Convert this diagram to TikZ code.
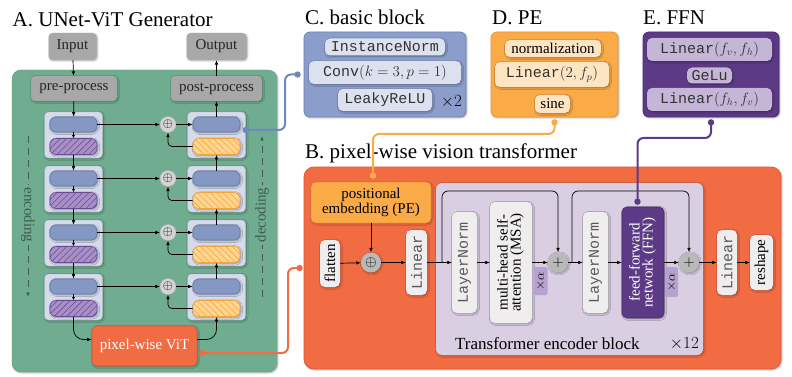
\RequirePackage{fix-cm}
\documentclass[tikz,border=0pt]{standalone}
\usepackage{fontspec}
\setmainfont{Liberation Serif}
\setmonofont{Liberation Mono}
\usepackage{graphicx}
\usetikzlibrary{arrows.meta,shadows.blur,patterns.meta}

\definecolor{panelgreen}{HTML}{6FAC90}
\definecolor{boxgray}{HTML}{A8A8A8}
\definecolor{blocklight}{HTML}{D5DBEA}
\definecolor{pillblue}{HTML}{8598C4}
\definecolor{pillblueline}{HTML}{6179AE}
\definecolor{hatchpurple}{HTML}{A88FC6}
\definecolor{hatchpurpleline}{HTML}{6A4B95}
\definecolor{hatchorange}{HTML}{FFD58F}
\definecolor{hatchorangeline}{HTML}{F3A43A}
\definecolor{vitred}{HTML}{F26C43}
\definecolor{vitredline}{HTML}{E2582F}
\definecolor{cblue}{HTML}{8A9DCB}
\definecolor{cblueline}{HTML}{6C84BA}
\definecolor{cpill}{HTML}{DCE1EF}
\definecolor{peorange}{HTML}{FAAA47}
\definecolor{peorangeline}{HTML}{EC9535}
\definecolor{dpill}{HTML}{FDE4C3}
\definecolor{ffnpurple}{HTML}{5D3A86}
\definecolor{ffnpurpleline}{HTML}{482A6E}
\definecolor{epill}{HTML}{C5B6D8}
\definecolor{tblock}{HTML}{D9CEE2}
\definecolor{lightpill}{HTML}{EFEDED}
\definecolor{alphabox}{HTML}{B7A2CF}
\definecolor{plusgray}{HTML}{B9B9B9}
\definecolor{sumlight}{HTML}{D4D4D4}
\definecolor{dashcol}{HTML}{3F5E51}
\definecolor{bluecon}{HTML}{6F88BF}

\tikzset{
  softshadow/.style={blur shadow={shadow xshift=0.9pt, shadow yshift=-0.9pt,
      shadow blur radius=1.6pt, shadow opacity=35}},
  arr/.style={-{Latex[length=4.5pt,width=3.6pt]}, line width=0.7pt, black},
  smallarr/.style={-{Latex[length=3pt,width=2.8pt]}, line width=0.6pt, black},
  txt/.style={font=\fontsize{15}{15}\selectfont},
  mono/.style={font=\fontsize{15}{15}\selectfont\ttfamily},
  headline/.style={font=\fontsize{21}{24}\selectfont, inner sep=0pt, anchor=base west},
  graybox/.style={softshadow, fill=boxgray, rounded corners=4pt, inner sep=0pt, txt, text=black!85},
  blockbg/.style={softshadow, fill=blocklight, draw=blocklight!85!black, line width=0.4pt,
      rounded corners=4pt, minimum width=58, minimum height=46},
  bluepill/.style={softshadow, fill=pillblue, draw=pillblueline, line width=0.6pt,
      rounded corners=6pt, minimum width=47, minimum height=15, inner sep=0pt},
  purplepill/.style={softshadow, preaction={fill=hatchpurple},
      pattern={Lines[angle=45,distance=4.5pt,line width=0.55pt]}, pattern color=hatchpurpleline,
      draw=hatchpurpleline, line width=0.6pt, rounded corners=6pt,
      minimum width=47, minimum height=16, inner sep=0pt},
  orangepill/.style={softshadow, preaction={fill=hatchorange},
      pattern={Lines[angle=-45,distance=4.5pt,line width=0.55pt]}, pattern color=hatchorangeline,
      draw=hatchorangeline, line width=0.6pt, rounded corners=6pt,
      minimum width=47, minimum height=16, inner sep=0pt},
  sumA/.style={circle, fill=sumlight, draw=sumlight!85!black, line width=0.4pt,
      minimum size=16, inner sep=0pt, font=\fontsize{13}{13}\selectfont},
  sumB/.style={softshadow, circle, fill=plusgray, minimum size=20, inner sep=0pt,
      font=\fontsize{15}{15}\selectfont},
  vitbox/.style={softshadow, fill=vitred, draw=vitredline, line width=0.6pt, rounded corners=5pt,
      inner sep=0pt, txt, text=white},
  dasharr/.style={-{Latex[length=4.5pt,width=3.6pt]}, dashcol, line width=0.8pt,
      dash pattern=on 7pt off 5pt},
  dashlabel/.style={txt, text=dashcol, fill=panelgreen, inner sep=3pt},
  panelbox/.style={softshadow, rounded corners=6pt, line width=0.8pt, inner sep=0pt},
  minipill/.style={softshadow, rounded corners=5pt, inner sep=0pt},
  lpill/.style={softshadow, fill=lightpill, rounded corners=5pt, inner sep=0pt},
  alphab/.style={fill=alphabox, rounded corners=2pt, inner sep=0pt,
      font=\fontsize{13}{13}\selectfont},
  dotc/.style={line width=2pt, rounded corners=6pt},
}

\begin{document}
\begin{tikzpicture}[x=1pt,y=-1pt]
\useasboundingbox (0,0) rectangle (792,377);

% ================= A: UNet-ViT generator =================
\node[headline] (tA) at (12.5,26.5) {A. UNet-ViT Generator};
\path[softshadow, fill=panelgreen, draw=panelgreen!92!black, line width=0.4pt, rounded corners=9pt]
  (12,70) rectangle (277,372);

\node[graybox, minimum width=48, minimum height=27] (input) at (72.5,46.5) {Input};
\node[graybox, minimum width=60, minimum height=27] (output) at (216.5,46.5) {Output};
\node[graybox, minimum width=86, minimum height=25] (pre) at (74,88.5) {pre-process};
\node[graybox, minimum width=91, minimum height=25] (post) at (216.5,88.5) {post-process};

\foreach \i/\t in {1/112,2/166,3/220,4/274}{
  \node[blockbg] (eblk\i) at (73.5,\t+23) {};
  \node[blockbg] (dblk\i) at (216.5,\t+23) {};
  \node[bluepill] (eb\i) at (73.5,\t+12.5) {};
  \node[purplepill] (ep\i) at (73.5,\t+34.5) {};
  \node[bluepill] (db\i) at (216.5,\t+12.5) {};
  \node[orangepill] (dp\i) at (216.5,\t+34.5) {};
  \node[sumA] (s\i) at (168,\t+12.5) {$\oplus$};
  \draw[arr] (eb\i.east) -- (s\i.west);
  \draw[arr] (s\i.east) -- (db\i.west);
  \draw[smallarr] (eb\i.south) -- (ep\i.north);
  \draw[arr, rounded corners=4pt] (dp\i.west) -| (s\i.south);
}
\foreach \i/\j in {1/2,2/3,3/4}{
  \draw[arr] (ep\i.south) -- (eb\j.north);
  \draw[arr] (db\j.north) -- (dp\i.south);
}
\draw[arr] (input) -- (pre);
\draw[arr] (pre) -- (eb1);
\draw[arr] (db1) -- (post);
\draw[arr] (post) -- (output);

\node[vitbox, minimum width=105, minimum height=40] (vit) at (144.5,346) {pixel-wise ViT};
\draw[arr, rounded corners=10pt] (ep4.south) |- ([yshift=6.5pt]vit.west);
\draw[arr, rounded corners=10pt] ([yshift=6.5pt]vit.east) -| (dp4.south);

% encoding / decoding direction marks
\coordinate (encTop) at (28,136);
\coordinate (encBot) at (28,297);
\coordinate (decBot) at (262,297);
\coordinate (decTop) at (262,136);
\draw[dasharr] (encTop) -- (encBot);
\draw[dasharr] (decBot) -- (decTop);
\node[dashlabel, rotate=-90] (enc) at (28,215) {encoding};
\node[dashlabel, rotate=90] (dec) at (262,215) {decoding};

% ================= C: basic block =================
\node[headline] (tC) at (305,25) {C. basic block};
\node[panelbox, fill=cblue, draw=cblueline, minimum width=162, minimum height=85] (Cbox) at (385,74.5) {};
\node[minipill, fill=cpill, mono, text=black!80, minimum width=120, minimum height=17] (inorm) at (385,47) {InstanceNorm};
\node[minipill, fill=cpill, mono, text=black!80, minimum width=152, minimum height=23] (conv) at (385,72.5) {Conv$(k=3,p=1)$};
\node[minipill, fill=cpill, mono, text=black!80, minimum width=94, minimum height=22] (lrelu) at (385,100) {LeakyReLU};
\node[font=\fontsize{17}{17}\selectfont, inner sep=0pt] (x2) at (451.5,101.5) {$\times 2$};

% ================= D: positional embedding =================
\node[headline] (tD) at (492,25) {D. PE};
\node[panelbox, fill=peorange, draw=peorangeline, minimum width=127, minimum height=85] (Dbox) at (554.5,74.5) {};
\node[minipill, fill=dpill, txt, minimum width=96, minimum height=17] (normz) at (553,48.5) {normalization};
\node[minipill, fill=dpill, mono, text=black!80, minimum width=114, minimum height=25] (linp) at (552,74.5) {Linear$(2,f_p)$};
\node[minipill, fill=dpill, txt, minimum width=35, minimum height=18] (sine) at (552.5,104) {sine};

% ================= E: feed-forward network =================
\node[headline] (tE) at (643,25) {E. FFN};
\node[panelbox, fill=ffnpurple, draw=ffnpurpleline, minimum width=136, minimum height=85] (Ebox) at (711,74.5) {};
\node[minipill, fill=epill, mono, text=black!80, minimum width=125, minimum height=23] (lvh) at (709.5,49.5) {Linear$(f_v,f_h)$};
\node[minipill, fill=epill, mono, text=black!80, minimum width=45, minimum height=16] (gelu) at (709.5,75.5) {GeLu};
\node[minipill, fill=epill, mono, text=black!80, minimum width=125, minimum height=23] (lhv) at (709.5,99.5) {Linear$(f_h,f_v)$};

% ================= B: pixel-wise vision transformer =================
\node[headline] (tB) at (305,158) {B. pixel-wise vision transformer};
\node[panelbox, fill=vitred, draw=vitredline, rounded corners=10pt, minimum width=477, minimum height=202] (Bpanel) at (542.5,268) {};

\node[softshadow, fill=peorange, draw=peorangeline, line width=0.6pt, rounded corners=5pt, inner sep=0pt,
  minimum width=120, minimum height=41, align=center, font=\fontsize{15}{14.5}\selectfont] (PE) at (371,202.5)
  {positional\\embedding (PE)};
\node[lpill, minimum width=20, minimum height=47, txt] (flat) at (330,263.5) {\rotatebox{90}{flatten}};
\node[sumB] (sB) at (371,262.5) {$\oplus$};
\node[lpill, minimum width=21, minimum height=65, mono, text=black!65] (lin1) at (416.5,262.5) {\rotatebox{90}{Linear}};

\node[softshadow, fill=tblock, rounded corners=6pt, inner sep=0pt, minimum width=267, minimum height=172] (TE) at (569.5,269) {};
\node[lpill, minimum width=25, minimum height=101, mono, text=black!65] (ln1) at (464.5,262.5) {\rotatebox{90}{LayerNorm}};
\node[lpill, minimum width=42, minimum height=121, font=\fontsize{15}{15}\selectfont] (msa) at (511,262.5)
  {\rotatebox{90}{\begin{tabular}{@{}c@{}}multi-head self-\\[-2pt]attention (MSA)\end{tabular}}};
\node[alphab, minimum width=14, minimum height=28] (a1) at (540.5,281) {\rotatebox{90}{$\times\alpha$}};
\node[sumB] (p1) at (558,262.5) {$+$};
\node[lpill, minimum width=25, minimum height=101, mono, text=black!65] (ln2) at (595.5,262.5) {\rotatebox{90}{LayerNorm}};
\node[softshadow, fill=ffnpurple, draw=ffnpurpleline, line width=0.6pt, rounded corners=5pt, inner sep=0pt,
  minimum width=42, minimum height=111, text=white, font=\fontsize{15}{15}\selectfont] (ffn) at (643,262.5)
  {\rotatebox{90}{\begin{tabular}{@{}c@{}}feed-forward\\[-2pt]network (FFN)\end{tabular}}};
\node[alphab, minimum width=13, minimum height=30] (a2) at (671.5,282) {\rotatebox{90}{$\times\alpha$}};
\node[sumB] (p2) at (689,262.5) {$+$};
\node[lpill, minimum width=20, minimum height=65, mono, text=black!65] (lin2) at (727,262.5) {\rotatebox{90}{Linear}};
\node[lpill, minimum width=23, minimum height=55, txt] (reshape) at (761.5,262.5) {\rotatebox{90}{reshape}};

\node[font=\fontsize{17}{17}\selectfont, anchor=west, inner sep=0pt] (telabel) at (455,343.5) {Transformer encoder block};
\node[font=\fontsize{17}{17}\selectfont, anchor=east, inner sep=0pt] (x12) at (699,343.5) {$\times 12$};

\draw[arr] (flat) -- (sB);
\draw[arr] (PE) -- (sB);
\draw[arr] (sB) -- (lin1);
\draw[arr] (lin1) -- (ln1);
\draw[arr] (ln1) -- (msa);
\draw[arr] (msa) -- (p1);
\draw[arr] (p1) -- (ln2);
\draw[arr] (ln2) -- (ffn);
\draw[arr] (ffn) -- (p2);
\draw[arr] (p2) -- (lin2);
\draw[arr] (lin2) -- (reshape);
\coordinate (br1) at (442,262.5);
\coordinate (up1) at (442,191);
\coordinate (br2) at (572,262.5);
\coordinate (up2) at (572,191);
\draw[arr, rounded corners=6pt] (br1) -- (up1) -| (p1.north);
\draw[arr, rounded corners=6pt] (br2) -- (up2) -| (p2.north);

% ================= links between the panels =================
\coordinate (cbend) at (285,74.5);
\draw[dotc, bluecon] ([yshift=5pt]dblk1.east) -| (cbend) -- ([xshift=-6pt]Cbox.west);
\fill[bluecon] ([yshift=5pt]dblk1.east) circle (3.2pt);
\fill[bluecon] ([xshift=-6pt]Cbox.west) circle (3.2pt);

\coordinate (vbend) at (288,268);
\draw[dotc, vitred] ([xshift=5pt,yshift=-7pt]vit.east) -| (vbend) -- ([xshift=-4pt]Bpanel.west);
\fill[vitred] ([xshift=5pt,yshift=-7pt]vit.east) circle (3.2pt);
\fill[vitred] ([xshift=-4pt]Bpanel.west) circle (3.2pt);

\coordinate (pebend) at (554.5,134);
\draw[dotc, peorange] ([yshift=-5pt]Dbox.south) -- (pebend) -| ([xshift=2pt,yshift=6pt]PE.north);
\fill[peorange] ([yshift=-5pt]Dbox.south) circle (3.2pt);
\fill[peorange] ([xshift=2pt,yshift=6pt]PE.north) circle (3.2pt);

\coordinate (ffnbend) at (711,138);
\draw[dotc, ffnpurple] ([yshift=-5pt]Ebox.south) -- (ffnbend) -| ([xshift=-5.5pt,yshift=5pt]ffn.north);
\fill[ffnpurple] ([yshift=-5pt]Ebox.south) circle (3.2pt);
\fill[ffnpurple] ([xshift=-5.5pt,yshift=5pt]ffn.north) circle (3.2pt);
\end{tikzpicture}
\end{document}
